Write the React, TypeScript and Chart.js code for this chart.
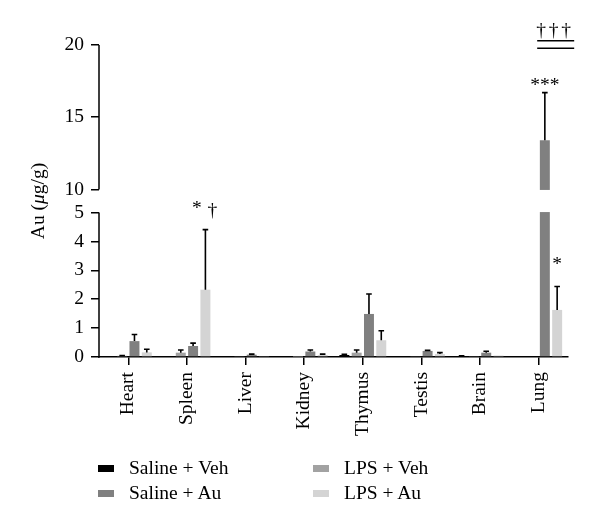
import React, { useEffect, useRef } from 'react';
import { Chart, registerables } from 'chart.js';

Chart.register(...registerables);

const FONT = "'Liberation Serif', 'Times New Roman', serif";
const FS = 19.5;

const categories = ['Heart', 'Spleen', 'Liver', 'Kidney', 'Thymus', 'Testis', 'Brain', 'Lung'];
const seriesNames = ['Saline + Veh', 'LPS + Veh', 'Saline + Au', 'LPS + Au'];
const seriesColors = ['#000000', '#a2a2a2', '#808080', '#d4d4d4'];

const salineVeh = [0.02, 0.01, 0.02, 0.01, 0.07, 0.01, 0.03, 0.0];
const salineVehErr = [0.0, 0.0, 0.0, 0.0, 0.02, 0.0, 0.01, 0.0];
const lpsVeh = [0.04, 0.15, 0.02, 0.01, 0.15, 0.02, 0.02, 0.0];
const lpsVehErr = [0.01, 0.09, 0.0, 0.0, 0.09, 0.0, 0.0, 0.0];
const salineAu = [0.55, 0.38, 0.08, 0.19, 1.49, 0.21, 0.15, 13.4];
const salineAuErr = [0.23, 0.1, 0.02, 0.05, 0.69, 0.02, 0.05, 3.3];
const lpsAu = [0.16, 2.33, 0.02, 0.07, 0.58, 0.1, 0.05, 1.63];
const lpsAuErr = [0.11, 2.08, 0.0, 0.03, 0.33, 0.05, 0.0, 0.81];

const seriesValues = [salineVeh, lpsVeh, salineAu, lpsAu];
const seriesErrors = [salineVehErr, lpsVehErr, salineAuErr, lpsAuErr];

const yTickValues = [0, 1, 2, 3, 4, 5, 10, 15, 20];
const breakLow = 5;
const breakHigh = 10;
const yMax = 20;

// significance marks: series index, category index, text
const significance = [
  { series: 3, category: 1, marks: ['*', '†'] },
  { series: 2, category: 7, marks: ['***'] },
  { series: 3, category: 7, marks: ['*'] },
];
const bracketText = '†††';

// broken-axis transform: lower segment 0-5, gap, upper segment 10-20 compressed
const GAP = 0.8;
const UPPER = 0.5;
const toAxis = (v: number) =>
  v <= breakLow ? v : v >= breakHigh ? breakLow + GAP + (v - breakHigh) * UPPER : breakLow + ((v - breakLow) / (breakHigh - breakLow)) * GAP;

const brokenAxisPlugin = {
  id: 'brokenAxis',
  afterDatasetsDraw(chart: any) {
    const { ctx, chartArea } = chart;
    const y = chart.scales.y;
    const pLow = y.getPixelForValue(toAxis(breakLow));
    const pHigh = y.getPixelForValue(toAxis(breakHigh));
    ctx.save();
    ctx.fillStyle = '#ffffff';
    ctx.fillRect(chartArea.left + 1, pHigh + 0.5, chartArea.right - chartArea.left, pLow - pHigh - 1);
    ctx.strokeStyle = '#000';
    ctx.lineWidth = 1.6;
    seriesValues.forEach((vals, di) => {
      const meta = chart.getDatasetMeta(di);
      vals.forEach((v, i) => {
        const e = seriesErrors[di][i];
        if (!e) return;
        const el = meta.data[i];
        const top = y.getPixelForValue(toAxis(v + e));
        const x = el.x;
        ctx.beginPath();
        ctx.moveTo(x, el.y);
        ctx.lineTo(x, top);
        ctx.moveTo(x - 2.8, top);
        ctx.lineTo(x + 2.8, top);
        ctx.stroke();
      });
    });
    ctx.lineWidth = 1.5;
    const x0 = chartArea.left;
    ctx.beginPath();
    ctx.moveTo(x0, y.getPixelForValue(0) + 0.75);
    ctx.lineTo(x0, pLow);
    ctx.moveTo(x0, pHigh);
    ctx.lineTo(x0, y.getPixelForValue(toAxis(yMax)));
    ctx.stroke();
    ctx.restore();
  },
  afterDraw(chart: any) {
    const { ctx, chartArea } = chart;
    const y = chart.scales.y;
    ctx.save();
    ctx.fillStyle = '#000';
    ctx.font = `${FS}px ${FONT}`;
    ctx.textAlign = 'center';
    ctx.textBaseline = 'alphabetic';
    significance.forEach((s) => {
      const el = chart.getDatasetMeta(s.series).data[s.category];
      const v = seriesValues[s.series][s.category] + seriesErrors[s.series][s.category];
      const top = y.getPixelForValue(toAxis(v));
      if (s.marks.length === 2) {
        ctx.fillText(s.marks[0], el.x - 8.5, top - 16);
        ctx.fillText(s.marks[1], el.x + 7, top - 14);
      } else if (s.marks[0] === '***') {
        ctx.fillText(s.marks[0], el.x, top - 2);
      } else {
        ctx.fillText(s.marks[0], el.x, top - 17);
      }
    });
    const lungX = chart.scales.x.getPixelForValue(categories.length - 1);
    const left = lungX - 1.5;
    const right = lungX + 35.5;
    ctx.strokeStyle = '#000';
    ctx.lineWidth = 1.5;
    ctx.beginPath();
    ctx.moveTo(left, chartArea.top - 4.3);
    ctx.lineTo(right, chartArea.top - 4.3);
    ctx.moveTo(left, chartArea.top + 3.3);
    ctx.lineTo(right, chartArea.top + 3.3);
    ctx.stroke();
    const chars = Array.from(bracketText);
    const cx = (left + right) / 2 - 2;
    chars.forEach((c, i) => {
      ctx.fillText(c, cx + (i - 1) * 12.5, chartArea.top - 9.5);
    });
    const parts = [
      { t: 'Au (', f: `${FS}px ${FONT}` },
      { t: 'μ', f: `italic ${FS}px ${FONT}` },
      { t: 'g/g)', f: `${FS}px ${FONT}` },
    ];
    let total = 0;
    const widths = parts.map((p) => {
      ctx.font = p.f;
      const w = ctx.measureText(p.t).width;
      total += w;
      return w;
    });
    ctx.translate(39, (chartArea.top + chartArea.bottom) / 2);
    ctx.rotate(-Math.PI / 2);
    ctx.textAlign = 'left';
    ctx.textBaseline = 'middle';
    let px = -total / 2;
    parts.forEach((p, i) => {
      ctx.font = p.f;
      ctx.fillText(p.t, px, 0);
      px += widths[i];
    });
    ctx.restore();
  },
};

export default function App() {
  const ref = useRef<HTMLCanvasElement>(null);

  useEffect(() => {
    if (!ref.current) return;
    const chart = new Chart(ref.current, {
      type: 'bar',
      data: {
        labels: categories,
        datasets: seriesValues.map((vals, i) => ({
          label: seriesNames[i],
          data: vals.map(toAxis),
          backgroundColor: seriesColors[i],
          borderWidth: 0,
          categoryPercentage: 0.84,
          barPercentage: 0.81,
        })),
      },
      options: {
        responsive: false,
        animation: false,
        layout: { padding: { top: 45, right: 32, bottom: 0, left: 0 } },
        plugins: { legend: { display: false }, tooltip: { enabled: false } },
        scales: {
          x: {
            type: 'category',
            offset: true,
            grid: { offset: false, drawOnChartArea: false, drawTicks: true, tickLength: 8, color: '#000', lineWidth: 1.5 },
            border: { display: true, color: '#000', width: 1.5 },
            ticks: { autoSkip: false, maxRotation: 90, minRotation: 90, padding: 7, color: '#000', font: { family: FONT, size: FS } },
            afterFit: (s: any) => {
              s.height = 167;
            },
          },
          y: {
            type: 'linear',
            min: 0,
            max: toAxis(yMax),
            grid: { drawOnChartArea: false, drawTicks: true, tickLength: 8, color: '#000', lineWidth: 1.5 },
            border: { display: false },
            ticks: {
              padding: 7,
              color: '#000',
              font: { family: FONT, size: FS },
              callback: (_v: any, i: number) => String(yTickValues[i]),
            },
            afterBuildTicks: (s: any) => {
              s.ticks = yTickValues.map((t) => ({ value: toAxis(t) }));
            },
            afterFit: (s: any) => {
              s.width = 99;
            },
          },
        },
      },
      plugins: [brokenAxisPlugin],
    } as any);
    return () => chart.destroy();
  }, []);

  const legendOrder = [
    [0, 2],
    [1, 3],
  ];
  const colLeft = [98, 313];
  const rowCenter = [468, 493];

  return (
    <div style={{ position: 'absolute', left: 0, top: 0, width: 600, height: 524, background: '#fff' }}>
      <canvas ref={ref} width={600} height={524} style={{ display: 'block', width: 600, height: 524 }} />
      {legendOrder.map((col, ci) =>
        col.map((si, ri) => (
          <div
            key={si}
            style={{
              position: 'absolute',
              left: colLeft[ci],
              top: rowCenter[ri] - 12,
              height: 24,
              display: 'flex',
              alignItems: 'center',
              fontFamily: FONT,
              fontSize: FS,
              color: '#000',
              whiteSpace: 'nowrap',
            }}
          >
            <span style={{ display: 'inline-block', width: 16, height: 7, background: seriesColors[si], marginRight: 15 }} />
            <span>{seriesNames[si]}</span>
          </div>
        ))
      )}
    </div>
  );
}
